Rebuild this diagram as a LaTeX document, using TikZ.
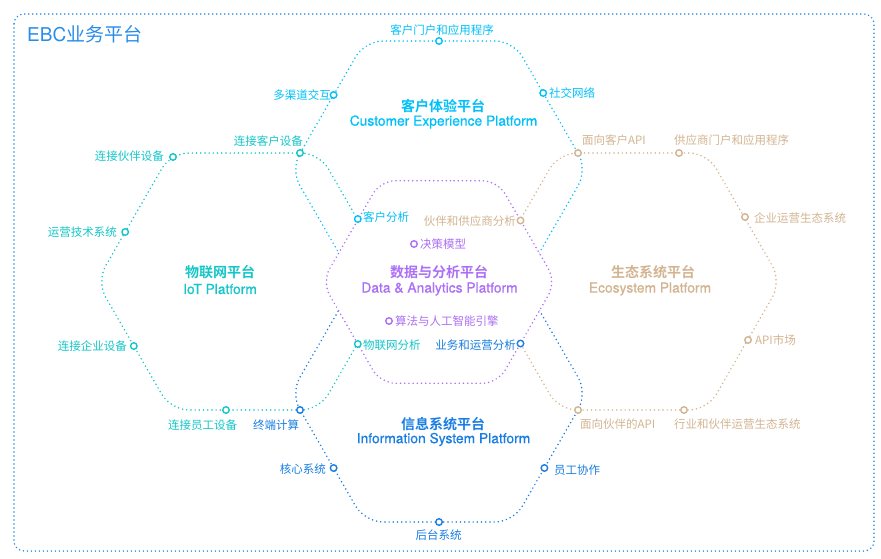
\documentclass[tikz,border=0pt]{standalone}
\usepackage{fontspec}
\setmainfont{Noto Sans CJK SC}[BoldFont={Noto Sans CJK SC Bold}]
\newfontfamily\heros{TeX Gyre Heros}[FakeBold=0.7]
\newfontfamily\herosreg{TeX Gyre Heros}
\definecolor{frameblue}{RGB}{40,140,235}
\definecolor{custcyan}{RGB}{0,192,250}
\definecolor{iotteal}{RGB}{20,198,200}
\definecolor{datapurple}{RGB}{172,112,245}
\definecolor{ecotan}{RGB}{210,180,145}
\definecolor{isblue}{RGB}{25,125,225}

\begin{document}
\begin{tikzpicture}[x=1pt, y=-1pt,
    hexline/.style={line width=1.7pt, dash pattern=on 0pt off 4.2pt, line cap=round, rounded corners=18pt},
    port/.style={circle, draw=#1, fill=white, line width=1.4pt, inner sep=0pt, minimum size=6.5pt},
    lab/.style={text=#1, inner sep=0pt, font=\fontsize{11.5}{13}\selectfont},
    cntitle/.style={text=#1, inner sep=0pt, font=\fontsize{14}{16}\selectfont\bfseries},
    entitle/.style={text=#1, inner sep=0pt, font=\fontsize{13.8}{16}\selectfont\heros}]
    \useasboundingbox (0,0) rectangle (881,558);

    % Moldura externa
    \draw[frameblue, line width=1.7pt, dash pattern=on 0pt off 4pt, line cap=round, rounded corners=10pt] (14,14) rectangle (874,551);
    \node[text=frameblue, inner sep=0pt, anchor=west, font=\fontsize{19}{21}\selectfont] (ebc) at (27,34) {{\herosreg EBC}业务平台};

    % Hexagonos (experiencia, IoT, ecossistema, sistemas de informacao)
    \draw[hexline, custcyan] (439,41) -- (513.2,41) -- (587.4,169.5) -- (513.2,298) -- (364.8,298) -- (290.6,169.5) -- (364.8,41) -- cycle;
    \draw[hexline, iotteal] (245,153) -- (319.2,153) -- (393.4,281.5) -- (319.2,410) -- (170.8,410) -- (96.6,281.5) -- (170.8,153) -- cycle;
    \draw[hexline, ecotan] (633,153) -- (707.2,153) -- (781.4,281.5) -- (707.2,410) -- (558.8,410) -- (484.6,281.5) -- (558.8,153) -- cycle;
    \draw[hexline, isblue] (439,265) -- (513.2,265) -- (587.4,393.5) -- (513.2,522) -- (364.8,522) -- (290.6,393.5) -- (364.8,265) -- cycle;

    % Hexagono central (dados), cobre os outros
    \draw[hexline, datapurple, fill=white, rounded corners=15pt] (439,180.7) -- (497.5,180.7) -- (556,282) -- (497.5,383.3) -- (380.5,383.3) -- (322,282) -- (380.5,180.7) -- cycle;

    % Pontos
    \node[port=custcyan] (cxportal) at (439,41) {};
    \node[port=custcyan] (cxomni) at (333.6,95) {};
    \node[port=custcyan] (cxsocial) at (543.2,93) {};
    \node[port=custcyan] (cxanaly) at (357.8,219) {};
    \node[port=iotteal] (iotcust) at (300,153) {};
    \node[port=iotteal] (iotpartner) at (173,157) {};
    \node[port=iotteal] (iotot) at (125.2,232) {};
    \node[port=iotteal] (iotent) at (133.8,346) {};
    \node[port=iotteal] (iotemp) at (226,410) {};
    \node[port=iotteal] (iotanaly) at (357.8,344) {};
    \node[port=isblue] (isedge) at (300,410) {};
    \node[port=isblue] (iscore) at (333.6,468) {};
    \node[port=isblue] (isback) at (439,522) {};
    \node[port=isblue] (iscollab) at (544.4,468) {};
    \node[port=isblue] (isops) at (520.5,343.5) {};
    \node[port=ecotan] (ecocust) at (578,153) {};
    \node[port=ecotan] (ecosupp) at (679,153) {};
    \node[port=ecotan] (ecoent) at (745,217) {};
    \node[port=ecotan] (ecoapi) at (748,340) {};
    \node[port=ecotan] (ecoind) at (684,410) {};
    \node[port=ecotan] (ecopart) at (578,410) {};
    \node[port=ecotan] (ecoanaly) at (520.5,220.5) {};
    \node[port=datapurple] (dadecide) at (414,244) {};
    \node[port=datapurple] (daalgo) at (389,321) {};

    % Rotulos dos pontos
    \node[lab=custcyan] (cxportall) at (442,30) {客户门户和应用程序};
    \node[lab=custcyan, anchor=east] (cxomnil) at (331,95) {多渠道交互};
    \node[lab=custcyan, anchor=west] (cxsociall) at (549,93) {社交网络};
    \node[lab=custcyan, anchor=west] (cxanalyl) at (363,217) {客户分析};
    \node[lab=iotteal, anchor=east] (iotcustl) at (303,141) {连接客户设备};
    \node[lab=iotteal, anchor=east] (iotpartnerl) at (164,156) {连接伙伴设备};
    \node[lab=iotteal, anchor=east] (iototl) at (117,232) {运营技术系统};
    \node[lab=iotteal, anchor=east] (iotentl) at (127,346) {连接企业设备};
    \node[lab=iotteal] (iotempl) at (202.5,425) {连接员工设备};
    \node[lab=iotteal, anchor=west] (iotanalyl) at (363,345) {物联网分析};
    \node[lab=isblue] (isedgel) at (276,425) {终端计算};
    \node[lab=isblue, anchor=east] (iscorel) at (326,469) {核心系统};
    \node[lab=isblue] (isbackl) at (438.5,535) {后台系统};
    \node[lab=isblue, anchor=west] (iscollabl) at (554,470) {员工协作};
    \node[lab=isblue, anchor=east] (isopsl) at (516,345) {业务和运营分析};
    \node[lab=ecotan, anchor=west] (ecocustl) at (582,140) {面向客户API};
    \node[lab=ecotan, anchor=west] (ecosuppl) at (674,140) {供应商门户和应用程序};
    \node[lab=ecotan, anchor=west] (ecoentl) at (754,218) {企业运营生态系统};
    \node[lab=ecotan, anchor=west] (ecoapil) at (755,340) {API市场};
    \node[lab=ecotan, anchor=west] (ecoindl) at (674,424) {行业和伙伴运营生态系统};
    \node[lab=ecotan, anchor=west] (ecopartl) at (580,424) {面向伙伴的API};
    \node[lab=ecotan, anchor=east] (ecoanalyl) at (516,221) {伙伴和供应商分析};
    \node[lab=datapurple, anchor=west] (dadecidel) at (420,244) {决策模型};
    \node[lab=datapurple, anchor=west] (daalgol) at (395,321) {算法与人工智能引擎};

    % Titulos das plataformas
    \node[cntitle=custcyan] (cxtitle) at (443,106) {客户体验平台};
    \node[entitle=custcyan] (cxsub) at (443.5,122) {Customer Experience Platform};
    \node[cntitle=iotteal] (iottitle) at (220,272) {物联网平台};
    \node[entitle=iotteal] (iotsub) at (220,289) {IoT Platform};
    \node[cntitle=datapurple] (datitle) at (439,272.5) {数据与分析平台};
    \node[entitle=datapurple] (dasub) at (439.5,289) {Data \& Analytics Platform};
    \node[cntitle=ecotan] (ecotitle) at (653,272) {生态系统平台};
    \node[entitle=ecotan] (ecosub) at (650,289) {Ecosystem Platform};
    \node[cntitle=isblue] (istitle) at (443,424) {信息系统平台};
    \node[entitle=isblue] (issub) at (443.5,439.5) {Information System Platform};
\end{tikzpicture}
\end{document}
